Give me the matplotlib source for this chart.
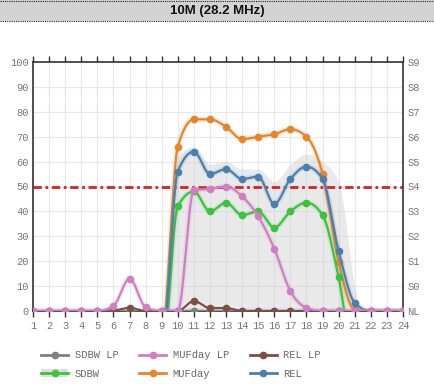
import matplotlib
matplotlib.use("Agg")
import matplotlib.pyplot as plt
import matplotlib.patheffects as pe
from matplotlib.patches import Rectangle
from matplotlib.lines import Line2D
from matplotlib.legend_handler import HandlerTuple
import numpy as np

# hours 1..24
hours = np.arange(1, 25)

# values (negative = below axis, clipped)
sdbw_lp = [0] * 24
sdbw = [-20] * 9 + [42, 48, 40, 43.5, 38.5, 40, 33.5, 40, 43.5, 38.5, 13.5] + [-20] * 4
sdbw_band = [-20] * 9 + [62, 66, 59, 60, 57, 57, 52, 59, 63, 60, 52, 10] + [-10] * 3
mufday_lp = [0, 0, 0, 0, 0, 2, 13, 1.5, 0, 0, 48.5, 49, 50, 46, 38, 25, 8, 1.3, 0, 0, 0, 0, 0, 0]
mufday = [-10] * 9 + [66, 77, 77, 74, 69, 70, 71, 73, 70, 55, 19.5, 0.5, 0, 0, 0]
rel_lp = [0, 0, 0, 0, 0, 0.2, 1.3, 0, 0, 0, 4, 1.2, 1.2, 0, 0, 0, 0, 0, 0, 0, 0, 0, 0, 0]
rel = [-15] * 9 + [56, 64, 55, 57, 53, 54, 43, 53, 58, 53, 24, 3.3, 0, 0, 0]

y_ticks = list(range(0, 101, 10))
s_labels = ["NL", "S0", "S1", "S2", "S3", "S4", "S5", "S6", "S7", "S8", "S9"]
threshold = 50


def monotone(x, y, n=40):
    # monotone cubic (like d3 curveMonotoneX)
    x = np.asarray(x, float)
    y = np.asarray(y, float)
    h = np.diff(x)
    s = np.diff(y) / h
    m = np.zeros_like(y)
    for i in range(1, len(y) - 1):
        s0, s1 = s[i - 1], s[i]
        p = (s0 * h[i] + s1 * h[i - 1]) / (h[i - 1] + h[i])
        m[i] = (np.sign(s0) + np.sign(s1)) * min(abs(s0), abs(s1), 0.5 * abs(p))
    m[0] = (3 * s[0] - m[1]) / 2 if len(y) > 2 else s[0]
    m[-1] = (3 * s[-1] - m[-2]) / 2 if len(y) > 2 else s[-1]
    xs, ys = [], []
    for i in range(len(y) - 1):
        t = np.linspace(0, 1, n, endpoint=(i == len(y) - 2))
        h00 = 2 * t**3 - 3 * t**2 + 1
        h10 = t**3 - 2 * t**2 + t
        h01 = -2 * t**3 + 3 * t**2
        h11 = t**3 - t**2
        xs.append(x[i] + t * h[i])
        ys.append(h00 * y[i] + h10 * h[i] * m[i] + h01 * y[i + 1] + h11 * h[i] * m[i + 1])
    return np.concatenate(xs), np.concatenate(ys)


plt.rcParams['font.family'] = ['Liberation Mono', 'DejaVu Sans Mono']

fig = plt.figure(figsize=(4.35, 3.87), dpi=100)
ax = fig.add_axes([33 / 435, 1 - 311 / 387, 370 / 435, 249 / 387])

# title bar
fig.patches.append(Rectangle((0, 1 - 21 / 387), 1, 21 / 387, transform=fig.transFigure,
                             facecolor="#d3d3d3", edgecolor="none", zorder=0))
for yy in (1 - 1 / 387, 1 - 21 / 387):
    fig.add_artist(Line2D([0, 1], [yy, yy], transform=fig.transFigure, color="#222",
                          lw=0.8, linestyle=(0, (1, 1))))
fig.text(0.5, 1 - 11 / 387, "10M (28.2 MHz)", ha="center", va="center",
         fontsize=9.5, fontweight="bold", family="Liberation Sans", color="#111")

bx, by = monotone(hours, sdbw_band)
ax.fill_between(bx, 0, by, color="#d0d0d0", alpha=0.45, lw=0, zorder=1)

ax.axhline(threshold, color="#d22424", lw=2, linestyle=(0, (3, 1.3, 1, 1.3)), zorder=2)

series = [
    ("SDBW LP", sdbw_lp, "#808080", 3),
    ("SDBW", sdbw, "#3cc23c", 5),
    ("MUFday", mufday, "#e8842c", 4),
    ("REL", rel, "#4a80ad", 6),
    ("REL LP", rel_lp, "#7d4e43", 7),
    ("MUFday LP", mufday_lp, "#d07fc2", 8),
]
handles = {}
for name, vals, col, z in series:
    sx, sy = monotone(hours, vals)
    halo = "white" if name == "REL LP" else col
    ax.plot(sx, sy, color=col, lw=1.6, zorder=z,
            path_effects=[pe.Stroke(linewidth=4, foreground=halo, alpha=0.15), pe.Normal()])
    ax.plot(hours, vals, "o", color=col, ms=4.5, zorder=z, clip_on=True)
    handles[name] = Line2D([], [], color=col, lw=2, marker="o", ms=4.5)

ax.set_xlim(1, 24)
ax.set_ylim(0, 100)
ax.set_xticks(hours)
ax.set_yticks(y_ticks)
ax.grid(True, color="#e8e8e8", lw=0.8, zorder=0)
ax.set_axisbelow(True)
for sp in ax.spines.values():
    sp.set_color("#333")
    sp.set_linewidth(1.2)
ax.tick_params(axis="x", top=True, bottom=True, direction="out", length=4.5, width=1,
               color="#333", labelsize=7.5, labelcolor="#777", pad=3)
ax.tick_params(axis="y", length=0, labelsize=7.5, labelcolor="#777", pad=3)

ax2 = ax.twinx()
ax2.set_ylim(0, 100)
ax2.set_yticks(y_ticks)
ax2.set_yticklabels(s_labels)
ax2.tick_params(axis="y", length=0, labelsize=7.5, labelcolor="#777", pad=3)
for sp in ax2.spines.values():
    sp.set_visible(False)

band_patch = Rectangle((0, 0), 1, 0.5, facecolor="#dedede", edgecolor="none")
order = ["SDBW LP", "SDBW", "MUFday LP", "MUFday", "REL LP", "REL"]
hl = [(band_patch, handles[k]) if k == "SDBW" else handles[k] for k in order]
fig.legend(hl, order, ncol=3, loc="upper left", bbox_to_anchor=(32 / 435, 1 - 341 / 387),
           frameon=False, fontsize=7.5, labelcolor="#666", handlelength=2.6,
           handletextpad=0.6, columnspacing=2.0, labelspacing=0.8,
           handler_map={tuple: HandlerTuple(ndivide=1)})

fig.savefig("out.png", dpi=100)
